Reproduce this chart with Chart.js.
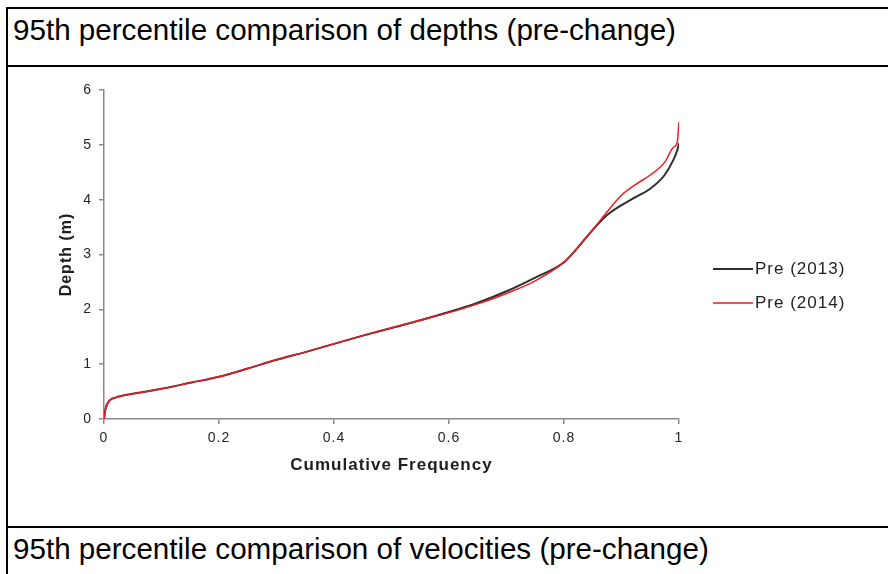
<!DOCTYPE html>
<html>
<head>
<meta charset="utf-8">
<script src="https://cdn.jsdelivr.net/npm/chart.js@4.4.1/dist/chart.umd.min.js"></script>
<style>
  html, body { margin: 0; padding: 0; background: #fff; }
  body { width: 888px; height: 574px; position: relative; overflow: hidden;
         font-family: "Liberation Sans", Arial, sans-serif; }
  .hline { position: absolute; left: 6px; width: 890px; height: 2px; background: #000; }
  .vline { position: absolute; left: 6px; top: 7px; width: 2px; height: 580px; background: #000; }
  .cap { position: absolute; left: 13px; font-size: 29.6px; line-height: 34px; color: #000; white-space: nowrap; }
  #plot { position: absolute; left: 9px; top: 69px; width: 877px; height: 456px; }
  #chart { filter: blur(0.3px); }
</style>
</head>
<body>
<div class="hline" style="top:7px"></div>
<div class="hline" style="top:65px"></div>
<div class="hline" style="top:526px"></div>
<div class="vline"></div>
<div class="cap" style="top:13px">95th percentile comparison of depths (pre-change)</div>
<div id="plot"><canvas id="chart" width="877" height="456"></canvas></div>
<div class="cap" style="top:532px">95th percentile comparison of velocities (pre-change)</div>

<script>
// Cumulative frequency (x) shared by both depth series
const cumFreq   = [0, 0.003, 0.01, 0.02, 0.05, 0.1, 0.15, 0.2, 0.25, 0.3, 0.35, 0.4, 0.45, 0.5, 0.55,
                   0.6, 0.65, 0.7, 0.75, 0.8, 0.825, 0.85, 0.875, 0.9, 0.925, 0.95, 0.975, 0.99, 0.997, 1.0];
// 95th percentile depths (m)
const depth2013 = [0, 0.2, 0.34, 0.39, 0.46, 0.55, 0.66, 0.77, 0.92, 1.08, 1.22, 1.37, 1.52, 1.66, 1.8,
                   1.95, 2.12, 2.33, 2.58, 2.86, 3.14, 3.45, 3.72, 3.9, 4.05, 4.2, 4.45, 4.72, 4.9, 5.03];
const depth2014 = [0, 0.2, 0.34, 0.39, 0.46, 0.55, 0.66, 0.77, 0.92, 1.08, 1.22, 1.37, 1.52, 1.66, 1.8,
                   1.94, 2.1, 2.29, 2.52, 2.86, 3.14, 3.45, 3.78, 4.08, 4.28, 4.45, 4.68, 4.95, 5.05, 5.42];
const seriesNames = ['Pre (2013)', 'Pre (2014)'];
const xTickLabels = ['0', '0.2', '0.4', '0.6', '0.8', '1'];
const yTickLabels = ['0', '1', '2', '3', '4', '5', '6'];

const FONT = "'Liberation Sans', Arial, sans-serif";
const AXIS_GREY = '#8a8a8a';

const toPoints = ys => cumFreq.map((x, i) => ({ x: x, y: ys[i] }));

// Slightly wider letter spacing for all chart text
const textSpacing = {
  id: 'textSpacing',
  beforeUpdate(chart) { chart.ctx.letterSpacing = '1px'; },
  beforeDraw(chart) { chart.ctx.letterSpacing = '1px'; }
};

// Legend drawn to the right of the plot: short line + series name
const sideLegend = {
  id: 'sideLegend',
  afterDraw(chart, args, opts) {
    const ctx = chart.ctx;
    ctx.save();
    ctx.font = opts.font;
    ctx.fillStyle = opts.color;
    ctx.textBaseline = 'middle';
    ctx.textAlign = 'left';
    opts.items.forEach((dsIndex, k) => {
      const ds = chart.data.datasets[dsIndex];
      const y = opts.y + k * opts.gap;
      ctx.strokeStyle = ds.borderColor;
      ctx.lineWidth = ds.borderWidth;
      ctx.beginPath();
      ctx.moveTo(opts.x, y);
      ctx.lineTo(opts.x + opts.lineLen, y);
      ctx.stroke();
      ctx.fillText(ds.label, opts.x + opts.lineLen + opts.textGap, y);
    });
    ctx.restore();
  }
};

new Chart(document.getElementById('chart'), {
  type: 'line',
  data: {
    datasets: [
      { label: seriesNames[0], data: toPoints(depth2013), borderColor: '#2e2e2e', borderWidth: 2,
        pointRadius: 0, cubicInterpolationMode: 'monotone', order: 1 },
      { label: seriesNames[1], data: toPoints(depth2014), borderColor: '#ec1c24', borderWidth: 1.5,
        pointRadius: 0, cubicInterpolationMode: 'monotone', order: 0 }
    ]
  },
  options: {
    responsive: false,
    animation: false,
    events: [],
    layout: { padding: { left: 0, top: 21, right: 207, bottom: 0 } },
    plugins: {
      legend: { display: false },
      tooltip: { enabled: false },
      sideLegend: { items: [0, 1], x: 704, y: 200, gap: 34, lineLen: 40, textGap: 2,
                    font: "17px " + FONT, color: '#1e1e1e' }
    },
    scales: {
      x: {
        type: 'linear', min: 0, max: 1,
        ticks: { stepSize: 0.2, autoSkip: false, maxRotation: 0, padding: 6, color: '#262626',
                 font: { size: 14, family: FONT }, callback: (v, i) => xTickLabels[i] },
        grid: { drawOnChartArea: false, drawTicks: true, tickLength: 5, color: AXIS_GREY, lineWidth: 1.5 },
        border: { color: AXIS_GREY, width: 1.5 },
        title: { display: true, text: 'Cumulative Frequency', color: '#1e1e1e',
                 font: { size: 17, weight: 'bold', family: FONT }, padding: { top: 0, bottom: 49 } },
        afterFit(scale) { scale.height = 106; }
      },
      y: {
        type: 'linear', min: 0, max: 6,
        ticks: { stepSize: 1, autoSkip: false, padding: 7, color: '#262626',
                 font: { size: 14, family: FONT }, callback: (v, i) => yTickLabels[i] },
        grid: { drawOnChartArea: false, drawTicks: true, tickLength: 5, color: AXIS_GREY, lineWidth: 1.5 },
        border: { color: AXIS_GREY, width: 1.5 },
        title: { display: true, text: 'Depth (m)', color: '#1e1e1e',
                 font: { size: 16, weight: 'bold', family: FONT }, padding: { top: 48, bottom: 0 } },
        afterFit(scale) { scale.width = 95; }
      }
    }
  },
  plugins: [textSpacing, sideLegend]
});
</script>
</body>
</html>
